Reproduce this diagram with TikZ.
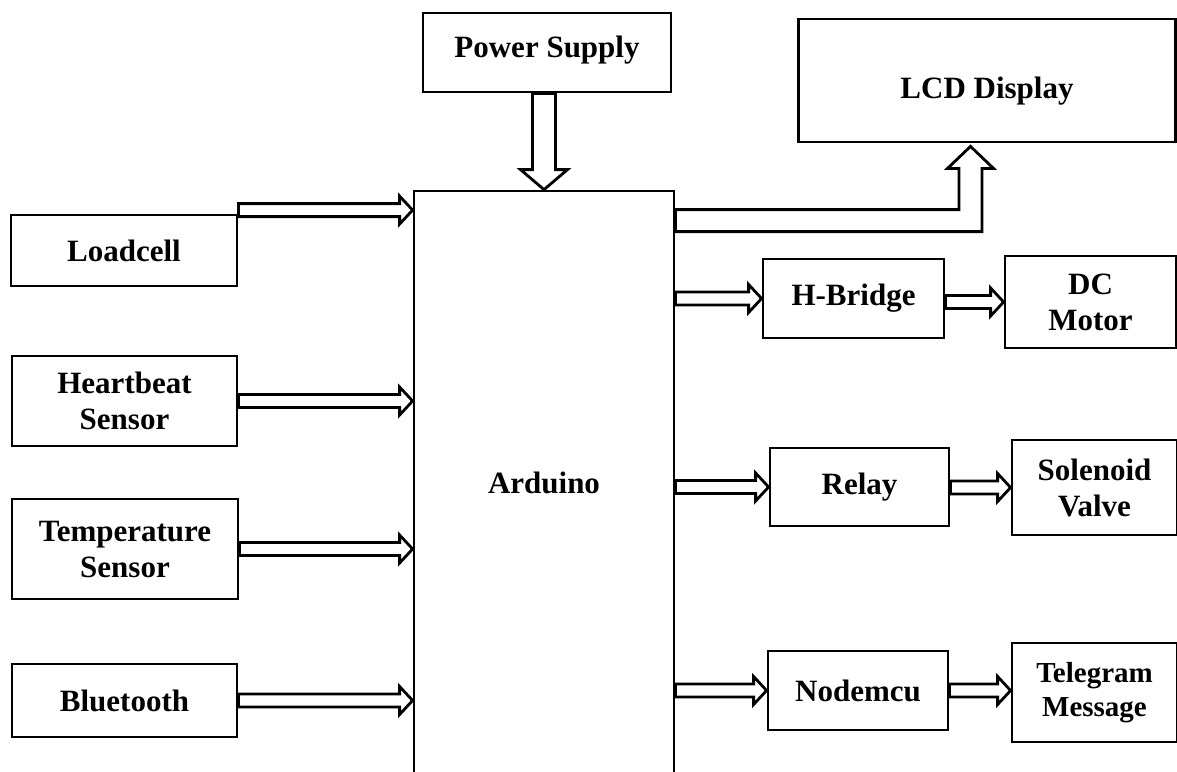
\documentclass[tikz,border=0pt]{standalone}
\usepackage{fontspec}
\setmainfont{Liberation Serif}
\usetikzlibrary{calc}

\tikzset{
  blk/.style={draw, line width=1.4pt, align=center, inner sep=2pt,
    font=\bfseries\fontsize{15.5}{18}\selectfont},
  fat/.style={draw, line width=1.4pt, line join=miter},
}
% hollow arrow, horizontal, from #1 to #2 (height of #1)
\newcommand{\fatarrow}[2]{%
  \draw[fat] let \p1=(#1), \p2=(#2) in
    (\x1,\y1+3.25pt) -- (\x2-6.5pt,\y1+3.25pt) -- (\x2-6.5pt,\y1+7pt) -- (\x2,\y1)
    -- (\x2-6.5pt,\y1-7pt) -- (\x2-6.5pt,\y1-3.25pt) -- (\x1,\y1-3.25pt) -- cycle;}

\begin{document}
\begin{tikzpicture}[x=0.5pt, y=-0.5pt]
  \useasboundingbox (0,0) rectangle (1177,771);
  % blocks
  \node[blk, minimum width=124pt, minimum height=39.5pt, text height=10.6pt, text depth=5.4pt] (psu) at (547,52.5) {Power Supply};
  \node[blk, minimum width=188.75pt, minimum height=61.5pt, text height=21pt, text depth=3.4pt] (lcd) at (987,80.5) {LCD Display};
  \node[blk, minimum width=130pt, minimum height=292pt] (ard) at (544,483) {Arduino};
  \node[blk, minimum width=113pt, minimum height=35.5pt] (load) at (124,250.5) {Loadcell};
  \node[blk, minimum width=112.5pt, minimum height=45pt] (heart) at (124.5,401) {Heartbeat\\Sensor};
  \node[blk, minimum width=113pt, minimum height=50pt] (temp) at (125,549) {Temperature\\Sensor};
  \node[blk, minimum width=112.5pt, minimum height=36.5pt] (blue) at (124.5,700.5) {Bluetooth};
  \node[blk, minimum width=90.5pt, minimum height=39.5pt] (hbr) at (853.5,298.5) {H-Bridge};
  \node[blk, minimum width=85.5pt, minimum height=46pt] (dcm) at (1090.5,302) {DC\\Motor};
  \node[blk, minimum width=89.5pt, minimum height=39pt] (relay) at (859.5,487) {Relay};
  \node[blk, minimum width=82.5pt, minimum height=47.5pt] (valve) at (1094.5,487.5) {Solenoid\\Valve};
  \node[blk, minimum width=90pt, minimum height=39.5pt] (mcu) at (858,690.5) {Nodemcu};
  \node[blk, minimum width=82.5pt, minimum height=49.5pt,
    font=\bfseries\fontsize{14.5}{17}\selectfont] (tele) at (1094.5,692.5) {Telegram\\Message};

  % inputs
  \coordinate (lc) at ($(load.north east)+(0,-3.5)$);
  \fatarrow{lc}{ard.west |- lc}
  \fatarrow{heart.east}{ard.west |- heart.east}
  \fatarrow{temp.east}{ard.west |- temp.east}
  \fatarrow{blue.east}{ard.west |- blue.east}
  % outputs
  \fatarrow{ard.east |- hbr.west}{hbr.west}
  \fatarrow{hbr.east |- dcm.west}{dcm.west}
  \fatarrow{ard.east |- relay.west}{relay.west}
  \fatarrow{relay.east |- valve.west}{valve.west}
  \fatarrow{ard.east |- mcu.west}{mcu.west}
  \fatarrow{mcu.east}{tele.west |- mcu.east}

  % power supply -> arduino
  \draw[fat] let \p1=(ard.north |- psu.south), \p2=(ard.north) in
    (\x1-5.75pt,\y1) -- (\x1-5.75pt,\y2+10pt) -- (\x1-11.75pt,\y2+10pt) -- (\x1,\y2)
    -- (\x1+11.75pt,\y2+10pt) -- (\x1+5.75pt,\y2+10pt) -- (\x1+5.75pt,\y1) -- cycle;
  % arduino -> lcd
  \coordinate (lo) at ($(ard.north east)+(0,31)$);
  \coordinate (li) at ($(lcd.south)+(-16.5,3)$);
  \draw[fat] let \p1=(lo), \p2=(li) in
    (\x1,\y1+5.5pt) -- (\x2-5.75pt,\y1+5.5pt) -- (\x2-5.75pt,\y2-11pt) -- (\x2-11.5pt,\y2-11pt)
    -- (\x2,\y2) -- (\x2+11.5pt,\y2-11pt) -- (\x2+5.75pt,\y2-11pt) -- (\x2+5.75pt,\y1-5.5pt)
    -- (\x1,\y1-5.5pt) -- cycle;
\end{tikzpicture}
\end{document}
